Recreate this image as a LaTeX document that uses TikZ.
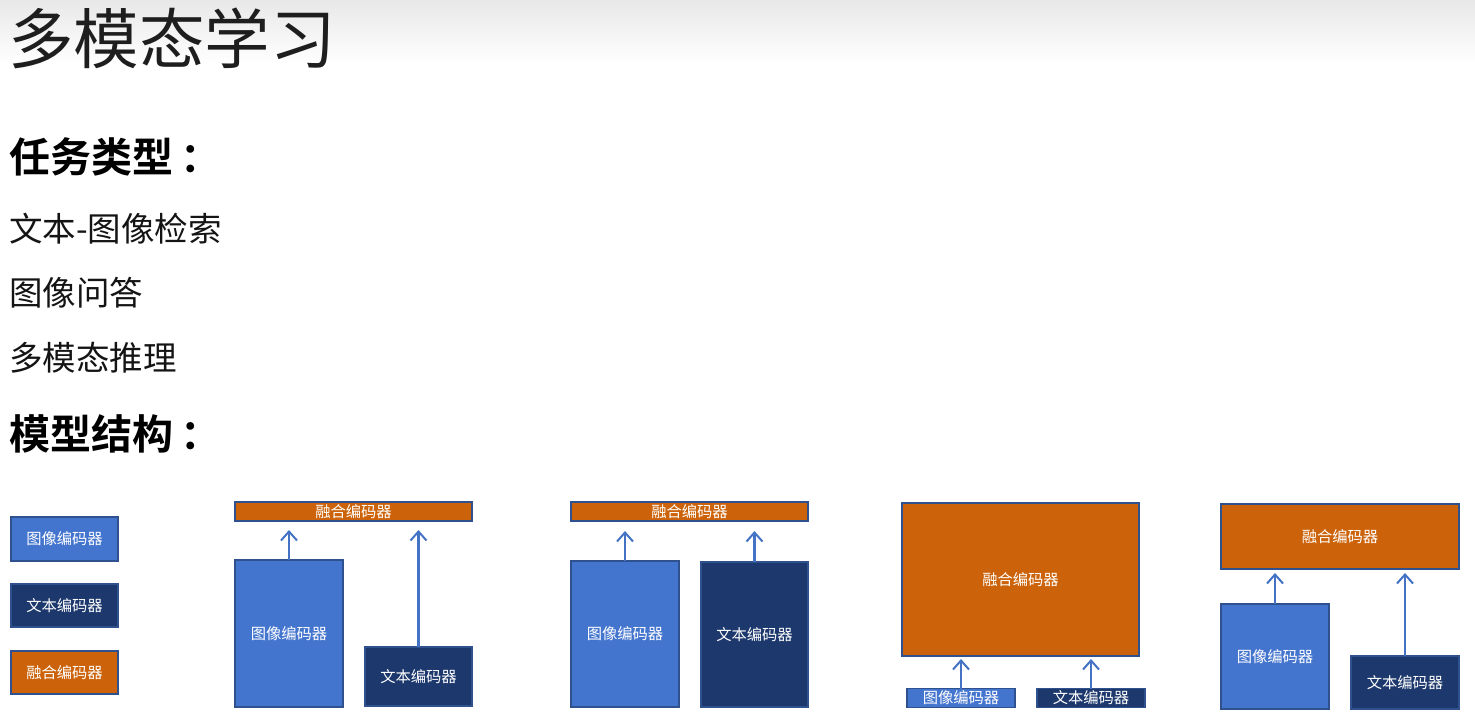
\documentclass[tikz,border=0pt]{standalone}
\usepackage{fontspec}
\newfontfamily\cjk{Noto Sans CJK SC}[BoldFont={Noto Sans CJK SC Bold}]
\usetikzlibrary{arrows.meta}
\definecolor{imgblue}{RGB}{68,117,206}
\definecolor{navy}{RGB}{28,56,108}
\definecolor{fuseorange}{RGB}{204,99,10}
\definecolor{edgeblue}{RGB}{47,82,143}
\definecolor{arrblue}{RGB}{68,114,196}
\definecolor{titlegray}{RGB}{30,30,30}
\tikzset{
  x=1pt, y=-1pt,
  encbox/.style={rectangle, draw=edgeblue, line width=1.3pt, inner sep=0pt, outer sep=0pt,
    text=white, font=\cjk\fontsize{15.3}{15.3}\selectfont},
  imgenc/.style={encbox, fill=imgblue},
  txtenc/.style={encbox, fill=navy},
  fusenc/.style={encbox, fill=fuseorange},
  arr/.style={draw=arrblue, line width=2.1pt, -{Straight Barb[length=9pt,width=16pt,line width=2pt]}},
  heading/.style={anchor=west, inner sep=0pt, text=black, font=\cjk\bfseries\fontsize{41}{41}\selectfont},
  item/.style={anchor=west, inner sep=0pt, text=black!92, font=\cjk\fontsize{33.5}{33.5}\selectfont},
}
\begin{document}
\begin{tikzpicture}
\useasboundingbox (0,0) rectangle (1475,721);
\fill[white] (0,0) rectangle (1475,721);
\shade[top color=black!9, bottom color=white] (0,0) rectangle (1475,64);

% texts
\node[anchor=west, inner sep=0pt, text=titlegray, font=\cjk\fontsize{65.5}{65.5}\selectfont] (title) at (8,38) {多模态学习};
\node[heading] (h1) at (9,157) {任务类型\hspace{7pt}：};
\node[item] (t1) at (9,229) {文本-图像检索};
\node[item] (t2) at (9,293) {图像问答};
\node[item] (t3) at (9,358) {多模态推理};
\node[heading] (h2) at (9,434) {模型结构\hspace{7pt}：};

% legend
\node[imgenc, minimum width=107pt, minimum height=44pt] (lg1) at (64.5,539) {图像编码器};
\node[txtenc, minimum width=107pt, minimum height=43pt] (lg2) at (64.5,605.5) {文本编码器};
\node[fusenc, minimum width=107pt, minimum height=43pt] (lg3) at (64.5,672.5) {融合编码器};

% diagram 1
\node[fusenc, minimum width=237pt, minimum height=19pt] (f1) at (353.5,511.5) {融合编码器};
\node[imgenc, minimum width=108pt, minimum height=147pt] (i1) at (289,633.5) {图像编码器};
\node[txtenc, minimum width=107pt, minimum height=59pt] (x1) at (418.5,676.5) {文本编码器};
\draw[arr, shorten >=9pt] (i1.north) -- (i1.north |- f1.south);
\draw[arr, shorten >=9pt] (x1.north) -- (x1.north |- f1.south);

% diagram 2
\node[fusenc, minimum width=237pt, minimum height=19pt] (f2) at (689.5,511.5) {融合编码器};
\node[imgenc, minimum width=108pt, minimum height=146pt] (i2) at (625,634) {图像编码器};
\node[txtenc, minimum width=107pt, minimum height=145pt] (x2) at (754.5,634.5) {文本编码器};
\draw[arr, shorten >=10pt] (i2.north) -- (i2.north |- f2.south);
\draw[arr, shorten >=10pt] (x2.north) -- (x2.north |- f2.south);

% diagram 3
\node[fusenc, minimum width=237pt, minimum height=153pt] (f3) at (1020.5,579.5) {融合编码器};
\node[imgenc, minimum width=108pt, minimum height=19pt] (i3) at (961,698) {图像编码器};
\node[txtenc, minimum width=108pt, minimum height=19pt] (x3) at (1091,698) {文本编码器};
\draw[arr, shorten >=3pt] (i3.north) -- (i3.north |- f3.south);
\draw[arr, shorten >=3pt] (x3.north) -- (x3.north |- f3.south);

% diagram 4
\node[fusenc, minimum width=238pt, minimum height=65pt] (f4) at (1340,536.5) {融合编码器};
\node[imgenc, minimum width=108pt, minimum height=105pt] (i4) at (1275,656.5) {图像编码器};
\node[txtenc, minimum width=108pt, minimum height=53pt] (x4) at (1405,682.5) {文本编码器};
\draw[arr, shorten >=4pt] (i4.north) -- (i4.north |- f4.south);
\draw[arr, shorten >=4pt] (x4.north) -- (x4.north |- f4.south);
\end{tikzpicture}
\end{document}
